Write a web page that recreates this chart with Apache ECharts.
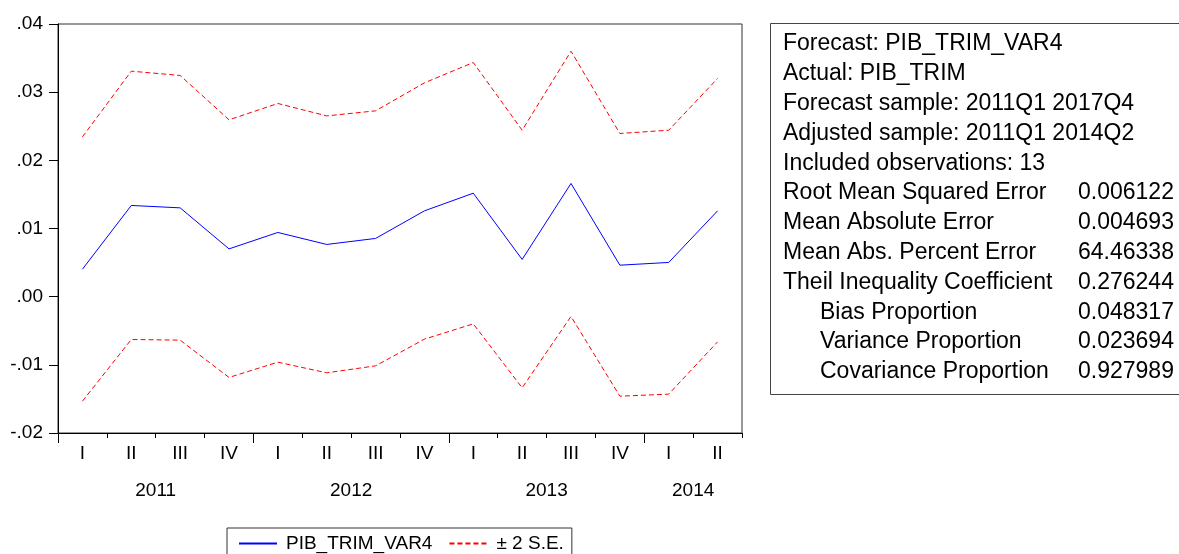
<!DOCTYPE html>
<html>
<head>
<meta charset="utf-8">
<script src="https://cdn.jsdelivr.net/npm/echarts@6/dist/echarts.min.js"></script>
<style>
  html, body { margin: 0; padding: 0; background: #fff; }
  #chart { width: 1179px; height: 554px; }
</style>
</head>
<body>
<div id="chart"></div>
<script>
// Quarterly periods and their roman-numeral tick labels
const quarterLabels = ['I', 'II', 'III', 'IV', 'I', 'II', 'III', 'IV', 'I', 'II', 'III', 'IV', 'I', 'II'];
const years = ['2011', '2012', '2013', '2014'];
const quartersPerYear = [4, 4, 4, 2];

// Forecast and the +/- 2 standard error bands
const forecast = [0.00403, 0.01338, 0.01303, 0.00701, 0.00942, 0.00766, 0.00854, 0.01259, 0.01518, 0.00546, 0.01661, 0.00462, 0.00502, 0.01259];
const upperBand = [0.02344, 0.03308, 0.03245, 0.02594, 0.02834, 0.02652, 0.02726, 0.03137, 0.03435, 0.02442, 0.03601, 0.02394, 0.02442, 0.03201];
const lowerBand = [-0.01533, -0.00628, -0.00638, -0.01185, -0.00961, -0.01117, -0.01015, -0.00623, -0.00399, -0.01337, -0.00290, -0.01460, -0.01430, -0.00663];

// Value axis ticks
const yMin = -0.02, yMax = 0.04, yStep = 0.01;

// Forecast evaluation summary
const headerLines = [
  'Forecast: PIB_TRIM_VAR4',
  'Actual: PIB_TRIM',
  'Forecast sample: 2011Q1 2017Q4',
  'Adjusted sample: 2011Q1 2014Q2',
  'Included observations: 13'
];
const statNames = [
  'Root Mean Squared Error',
  'Mean Absolute Error',
  'Mean Abs. Percent Error',
  'Theil Inequality Coefficient',
  'Bias Proportion',
  'Variance Proportion',
  'Covariance Proportion'
];
const statValues = ['0.006122', '0.004693', '64.46338', '0.276244', '0.048317', '0.023694', '0.927989'];
const statIndented = [false, false, false, false, true, true, true];

const FONT = '"Liberation Sans", Arial, sans-serif';
const BAND_NAME = '± 2 S.E.';

// Year boundaries and label centres along the quarter axis
const yearStarts = [];
const yearCentres = [];
let acc = 0;
quartersPerYear.forEach(n => { yearStarts.push(acc); yearCentres.push(acc + n / 2); acc += n; });

function fmtY(v) {
  const s = Math.abs(v).toFixed(2).replace(/^0/, '');
  return (v < -1e-9 ? '-' : '') + s;
}

// Summary panel built as graphic text
const panelX = 770, panelY = 23, panelH = 371;
const rowTop = 44, rowStep = 29.8;
const panelChildren = [{
  type: 'rect',
  shape: { x: panelX + 0.5, y: panelY + 0.5, width: 440, height: panelH },
  style: { fill: '#fff', stroke: '#444', lineWidth: 1 }
}];
headerLines.forEach((t, i) => {
  panelChildren.push({
    type: 'text', x: 783, y: rowTop + i * rowStep,
    style: { text: t, font: '23px ' + FONT, fill: '#000', verticalAlign: 'middle' }
  });
});
statNames.forEach((t, i) => {
  const y = rowTop + (headerLines.length + i) * rowStep;
  panelChildren.push({
    type: 'text', x: statIndented[i] ? 820 : 783, y: y,
    style: { text: t, font: '23px ' + FONT, fill: '#000', verticalAlign: 'middle' }
  });
  panelChildren.push({
    type: 'text', x: 1078, y: y,
    style: { text: statValues[i], font: '23px ' + FONT, fill: '#000', verticalAlign: 'middle' }
  });
});

const chart = echarts.init(document.getElementById('chart'), null, { renderer: 'canvas' });
chart.setOption({
  animation: false,
  backgroundColor: '#fff',
  textStyle: { fontFamily: FONT },
  grid: {
    left: 58, top: 24, right: 437, bottom: 121,
    show: true, borderColor: '#333', borderWidth: 1, backgroundColor: 'transparent'
  },
  legend: {
    left: 227, top: 528,
    padding: [6, 8, 10, 11],
    itemWidth: 38, itemHeight: 14, itemGap: 16,
    borderColor: '#333', borderWidth: 1,
    itemStyle: { opacity: 0 },
    textStyle: { fontSize: 19, color: '#000', fontFamily: FONT, padding: [0, 0, 0, 4] },
    data: ['PIB_TRIM_VAR4', BAND_NAME]
  },
  xAxis: [{
    type: 'category',
    data: quarterLabels,
    boundaryGap: true,
    position: 'bottom',
    axisLine: { onZero: false, lineStyle: { color: '#000', width: 1 } },
    axisTick: { show: true, length: 5, inside: false, lineStyle: { color: '#000' } },
    axisLabel: { color: '#000', fontSize: 19, margin: 11, interval: 0 },
    splitLine: { show: false }
  }, {
    type: 'value',
    min: 0, max: quarterLabels.length,
    position: 'bottom',
    axisLine: { show: false, onZero: false },
    axisTick: { show: true, length: 10, customValues: yearStarts, lineStyle: { color: '#000' } },
    axisLabel: {
      color: '#000', fontSize: 19, margin: 48,
      customValues: yearCentres,
      formatter: v => {
        const k = yearCentres.findIndex(c => Math.abs(c - v) < 1e-6);
        return k >= 0 ? years[k] : '';
      }
    },
    splitLine: { show: false }
  }],
  yAxis: {
    type: 'value',
    min: yMin, max: yMax, interval: yStep,
    axisLine: { show: true, onZero: false, lineStyle: { color: '#000', width: 1 } },
    axisTick: { show: true, length: 9, inside: false, lineStyle: { color: '#000' } },
    axisLabel: { color: '#000', fontSize: 19, margin: 15, formatter: fmtY },
    splitLine: { show: false }
  },
  series: [{
    name: 'PIB_TRIM_VAR4',
    type: 'line',
    data: forecast,
    symbol: 'none',
    lineStyle: { color: '#0000ff', width: 1 },
    itemStyle: { color: '#0000ff' }
  }, {
    name: BAND_NAME,
    type: 'line',
    data: upperBand,
    symbol: 'none',
    lineStyle: { color: '#ff0000', width: 1, type: [5, 3] },
    itemStyle: { color: '#ff0000' }
  }, {
    name: BAND_NAME,
    type: 'line',
    data: lowerBand,
    symbol: 'none',
    lineStyle: { color: '#ff0000', width: 1, type: [5, 3] },
    itemStyle: { color: '#ff0000' }
  }],
  graphic: [{ type: 'group', children: panelChildren }]
});
</script>
</body>
</html>
